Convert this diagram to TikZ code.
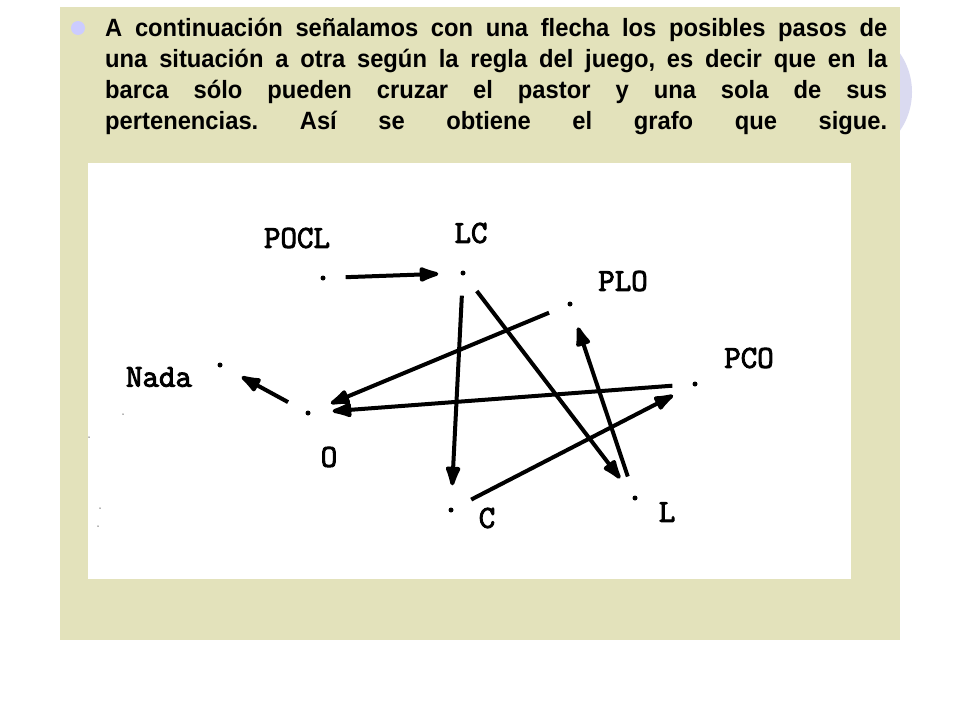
\documentclass[tikz,border=0pt]{standalone}
\usepackage{fontspec}
\usepackage{xcolor}
\usepackage{graphicx}
\usepackage{tikz}
\usetikzlibrary{calc,arrows.meta,positioning}
\newfontfamily\textofont{Liberation Sans}[FakeStretch=0.95]
\newfontfamily\etiqfont{Latin Modern Mono}[FakeBold=3]
\definecolor{fondo}{RGB}{227,226,187}
\definecolor{vineta}{RGB}{204,204,255}
\definecolor{aro}{RGB}{218,218,240}
\newcommand{\linea}[1]{\makebox[\linewidth][s]{#1}}
\begin{document}
\begin{tikzpicture}
[x=1pt,y=-1pt,
punto/.style={shape=circle,fill=black,inner sep=0pt,minimum size=5pt},
mota/.style={shape=circle,fill=black!60,inner sep=0pt,minimum size=1.5pt},
etiqueta/.style={inner sep=0pt,font=\etiqfont\fontsize{32}{32}\selectfont},
texto/.style={inner sep=0pt,anchor=base west,font=\textofont\bfseries},
flecha/.style={line width=4pt,-{Latex[length=26pt,width=17pt,round]},shorten <=20pt,shorten >=22pt}]
\useasboundingbox (0,0) rectangle (960,720);
\fill[aro] (844,92) circle (68pt);
\fill[fondo] (60,7) rectangle (900,640);
\fill[white] (88,163) rectangle (851,579);
\fill[vineta] (78,28) circle (7pt);
\node[texto] (parrafo) at (105,36) {\parbox[t]{782pt}{\fontsize{25}{31.2}\selectfont\frenchspacing
\linea{A continuación señalamos con una flecha los posibles pasos de}\par
\linea{una situación a otra según la regla del juego, es decir que en la}\par
\linea{barca sólo pueden cruzar el pastor y una sola de sus}\par
\linea{pertenencias. Así se obtiene el grafo que sigue.}}};
\node[punto] (pocl) at (323,278) {};
\node[punto] (lc) at (463,273) {};
\node[punto] (plo) at (570,304) {};
\node[punto] (pco) at (695,384) {};
\node[punto] (nada) at (220,365) {};
\node[punto] (o) at (308,413) {};
\node[punto] (c) at (451,510) {};
\node[punto] (l) at (635,498) {};
\node[etiqueta] (tpocl) at (297,238) {POCL};
\node[etiqueta] (tlc) at (471,233) {LC};
\node[etiqueta] (tplo) at (623,281) {PLO};
\node[etiqueta] (tpco) at (749,358) {PCO};
\node[etiqueta] (tnada) at (159,377) {Nada};
\node[etiqueta] (to) at (329,457) {O};
\node[etiqueta] (tc) at (487,518) {C};
\node[etiqueta] (tl) at (667,512) {L};
\foreach \x/\y in {123/414,89/437,100/508,98/526}
\node[mota] at (\x,\y) {};
\path
\foreach \desde/\hasta in {pocl/lc,o/nada,lc/c,plo/o,pco/o,lc/l,l/plo,c/pco}
{
	(\desde) edge[flecha] (\hasta)
};
\end{tikzpicture}
\end{document}
